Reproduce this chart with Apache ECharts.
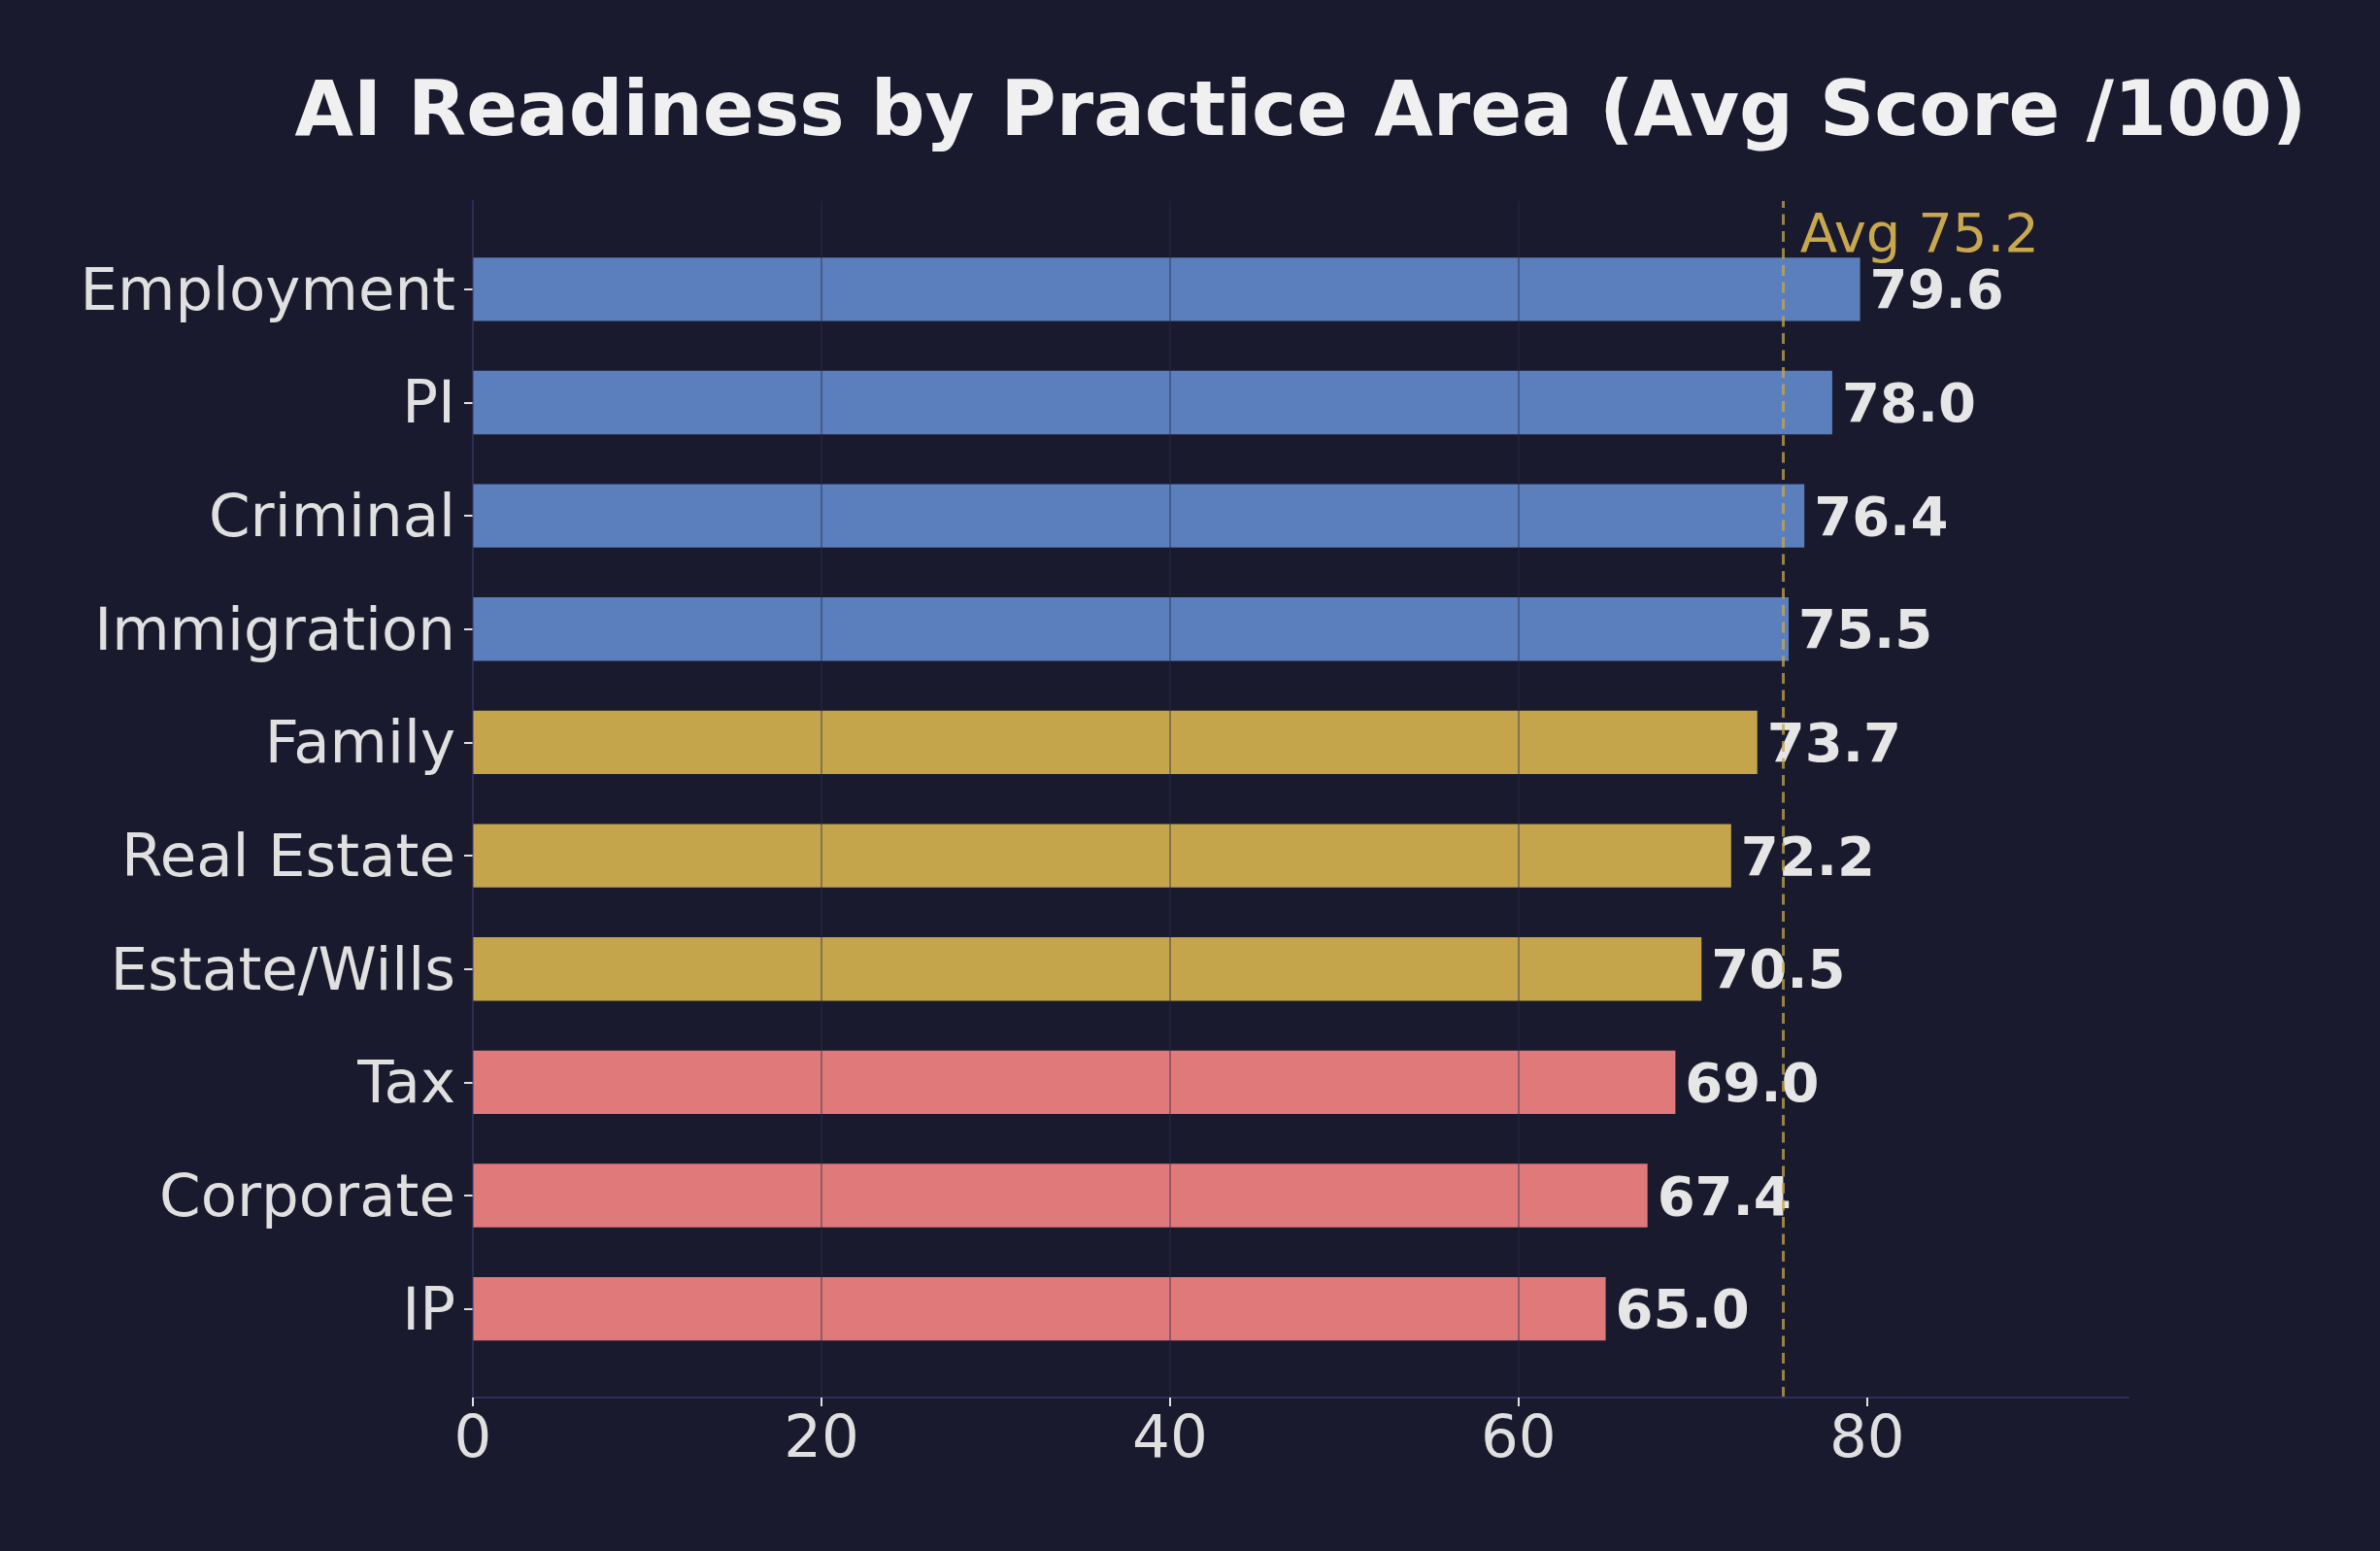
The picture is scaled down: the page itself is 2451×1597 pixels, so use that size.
<!DOCTYPE html>
<html>
<head>
<meta charset="utf-8">
<title>AI Readiness by Practice Area</title>
<script src="https://cdn.jsdelivr.net/npm/echarts@6/dist/echarts.min.js"></script>
<style>
  html, body { margin: 0; padding: 0; background: #1a1a2e; }
  #chart { width: 2451px; height: 1597px; }
</style>
</head>
<body>
<div id="chart"></div>
<script>
// practice areas, top to bottom
const practiceAreas = ['Employment', 'PI', 'Criminal', 'Immigration', 'Family',
  'Real Estate', 'Estate/Wills', 'Tax', 'Corporate', 'IP'];
const avgScores = [79.6, 78.0, 76.4, 75.5, 73.7, 72.2, 70.5, 69.0, 67.4, 65.0];
const overallAvg = 75.2;
const xTicks = [0, 20, 40, 60, 80];

const FONT = 'DejaVu Sans';
const BG = '#1a1a2e';
const TEXT = '#e0e0e0';
const SPINE = '#2f2d5c';

// colour by score tier
function tierColor(v) {
  if (v >= 75) return '#5b7fbd';
  if (v >= 70) return '#c4a54c';
  return '#e07a7a';
}

// plot frame (pixels)
const plotLeft = 487, plotRight = 2192, plotTop = 207, plotBottom = 1439;
// category bands sit inside the frame with a small margin
const bandTop = 239.5, bandBottom = 1406;

const chart = echarts.init(document.getElementById('chart'), null, { renderer: 'canvas' });

const option = {
  backgroundColor: BG,
  animation: false,
  title: {
    text: 'AI Readiness by Practice Area (Avg Score /100)',
    left: (plotLeft + plotRight) / 2,
    top: 80,
    padding: 0,
    textAlign: 'center',
    textStyle: { color: '#f0f0f0', fontFamily: FONT, fontWeight: 'bold', fontSize: 78 }
  },
  grid: [
    // frame grid: spines, x ticks, grid lines, avg line
    { left: plotLeft, top: plotTop, width: plotRight - plotLeft, height: plotBottom - plotTop },
    // bar grid
    { left: plotLeft, top: bandTop, width: plotRight - plotLeft, height: bandBottom - bandTop }
  ],
  xAxis: [
    {
      gridIndex: 0,
      type: 'value',
      min: 0,
      max: 95,
      interval: 20,
      z: 5,
      axisLine: { show: true, lineStyle: { color: SPINE, width: 2 } },
      axisTick: { show: true, length: 9, lineStyle: { color: TEXT, width: 2 }, customValues: xTicks },
      axisLabel: {
        color: TEXT, fontFamily: FONT, fontSize: 61, margin: 15,
        customValues: xTicks
      },
      splitLine: { show: true, showMaxLine: false, lineStyle: { color: 'rgba(42,42,75,0.55)', width: 1.5 } }
    },
    {
      gridIndex: 1,
      type: 'value',
      min: 0,
      max: 95,
      show: false
    }
  ],
  yAxis: [
    {
      gridIndex: 0,
      type: 'value',
      min: 0,
      max: 1,
      axisLine: { show: true, lineStyle: { color: SPINE, width: 2 } },
      axisTick: { show: false },
      axisLabel: { show: false },
      splitLine: { show: false }
    },
    {
      gridIndex: 1,
      type: 'category',
      inverse: true,
      data: practiceAreas,
      axisLine: { show: false },
      axisTick: { show: true, alignWithLabel: true, length: 9, lineStyle: { color: TEXT, width: 2 } },
      axisLabel: {
        margin: 18,
        formatter: v => '{c|' + v + '}',
        rich: {
          c: { color: TEXT, fontFamily: FONT, fontSize: 61, padding: [10, 0, 0, 0] }
        }
      },
      splitLine: { show: false }
    }
  ],
  series: [
    {
      type: 'bar',
      xAxisIndex: 1,
      yAxisIndex: 1,
      barWidth: '56%',
      z: 2,
      data: avgScores.map(v => ({ value: v, itemStyle: { color: tierColor(v) } })),
      label: {
        show: true,
        position: 'right',
        distance: 10,
        offset: [0, 5],
        color: '#e6e6e6',
        fontFamily: FONT,
        fontWeight: 'bold',
        fontSize: 56,
        formatter: p => p.value.toFixed(1)
      }
    },
    {
      // average marker: dashed line across the frame plus its caption
      type: 'scatter',
      xAxisIndex: 0,
      yAxisIndex: 0,
      symbolSize: 0,
      silent: true,
      itemStyle: { opacity: 1 },
      data: [[overallAvg, 0.974]],
      label: {
        show: true,
        position: 'right',
        distance: 17,
        offset: [0, 5],
        color: '#c8a84e',
        fontFamily: FONT,
        fontSize: 56,
        formatter: 'Avg ' + overallAvg.toFixed(1)
      },
      markLine: {
        silent: true,
        symbol: 'none',
        label: { show: false },
        lineStyle: { color: '#c4a54c', opacity: 0.75, width: 3, type: [11, 6.5] },
        data: [{ xAxis: overallAvg }]
      }
    }
  ]
};

chart.setOption(option);
</script>
</body>
</html>
